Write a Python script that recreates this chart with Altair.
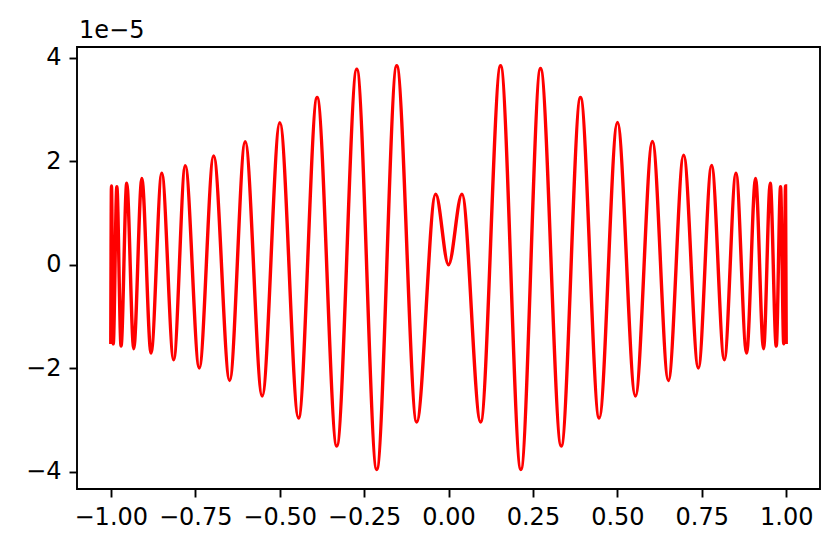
import altair as alt
import pandas as pd

# Extrema of the curve (y in units of 1e-5)
x_vals = [
    -1.0, -0.998, -0.9927, -0.982, -0.9695, -0.9527, -0.932, -0.908, -0.8808,
    -0.849, -0.8137, -0.7794, -0.738, -0.6954, -0.648, -0.602, -0.5517,
    -0.4994, -0.444, -0.389, -0.3308, -0.2716, -0.2125, -0.1533, -0.0942,
    -0.038, 0.0,
    0.0398, 0.0951, 0.1542, 0.2143, 0.2725, 0.3338, 0.3908, 0.4461, 0.5002,
    0.5535, 0.6038, 0.6511, 0.6963, 0.7398, 0.7791, 0.8167, 0.8512, 0.8826,
    0.9092, 0.9329, 0.9527, 0.9705, 0.9832, 0.9927, 0.998, 1.0,
]
y_vals = [
    -1.53, 1.526, -1.53, 1.507, -1.571, 1.578, -1.623, 1.667, -1.706,
    1.772, -1.836, 1.913, -1.996, 2.106, -2.236, 2.377, -2.538,
    2.745, -2.963, 3.234, -3.505, 3.783, -3.957, 3.847, -3.04,
    1.366, 0.0,
    1.366, -3.04, 3.847, -3.957, 3.795, -3.505, 3.234, -2.963, 2.750,
    -2.538, 2.383, -2.236, 2.120, -1.996, 1.919, -1.836, 1.772, -1.706,
    1.667, -1.623, 1.578, -1.571, 1.507, -1.526, 1.526, -1.53,
]
x_ticks = [-1.0, -0.75, -0.5, -0.25, 0.0, 0.25, 0.5, 0.75, 1.0]
y_ticks = [-4, -2, 0, 2, 4]
offset_text = ["1e\u22125"]

df = pd.DataFrame({"x": x_vals, "y": y_vals})

FONT = "DejaVu Sans"
FS = 24

line = alt.Chart(df).mark_line(
    color="#ff0000", strokeWidth=3.4, interpolate="monotone", clip=True
).encode(
    x=alt.X(
        "x:Q",
        scale=alt.Scale(domain=[-1.1, 1.1], nice=False, zero=False),
        axis=alt.Axis(
            values=x_ticks, format=".2f", title=None, grid=False,
            tickSize=8, tickWidth=1.9, tickColor="black",
            labelPadding=8, labelFontSize=FS, labelFont=FONT, labelColor="black",
            domain=False, labelFlush=False, labelOverlap=False,
        ),
    ),
    y=alt.Y(
        "y:Q",
        scale=alt.Scale(domain=[-4.335, 4.21], nice=False, zero=False),
        axis=alt.Axis(
            values=y_ticks, format="d", title=None, grid=False,
            tickSize=8, tickWidth=1.9, tickColor="black",
            labelPadding=8, labelFontSize=FS, labelFont=FONT, labelColor="black",
            domain=False, labelFlush=False, labelOverlap=False,
        ),
    ),
)

offset = alt.Chart(alt.Data(values=[{"t": t} for t in offset_text])).mark_text(
    align="left", baseline="alphabetic", fontSize=FS, font=FONT, color="black"
).encode(
    x=alt.value(2),
    y=alt.value(-9),
    text="t:N",
)

chart = (
    alt.layer(line, offset)
    .properties(
        width=743,
        height=442,
        padding={"left": 69, "top": 39, "right": 12, "bottom": 50},
        autosize=alt.AutoSizeParams(type="none"),
        background="white",
    )
    .configure_view(stroke="black", strokeWidth=1.9)
)

chart.save("out.html", embed_options={"renderer": "svg", "actions": False})
